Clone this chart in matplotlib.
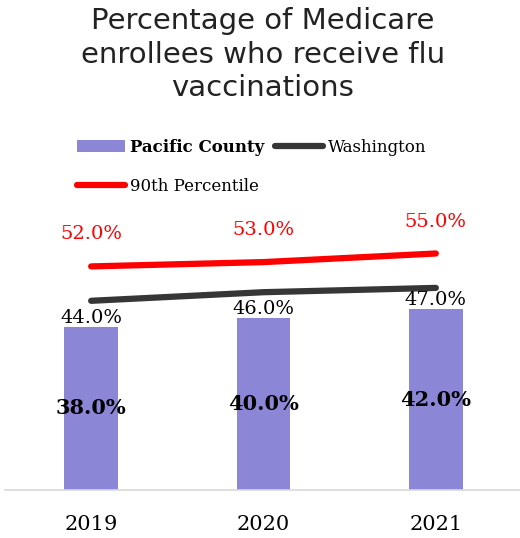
import matplotlib.pyplot as plt
import numpy as np

# Данные
years = ['2019', '2020', '2021']
pacific = [38.0, 40.0, 42.0]
washington = [44.0, 46.0, 47.0]
pct90 = [52.0, 53.0, 55.0]

bar_color = '#8B86D6'
wa_color = '#363636'
p90_color = '#FF0000'
serif = 'DejaVu Serif'

W, H = 520, 538
fig = plt.figure(figsize=(W / 100, H / 100), dpi=100)

# Оси в пиксельных координатах
left, right, bottom, top = 5, 522, 490, 232
ax = fig.add_axes([left / W, (H - bottom) / H, (right - left) / W, (bottom - top) / H])

x = np.arange(len(years))
bars = ax.bar(x, pacific, width=0.31, color=bar_color, label='Pacific County', zorder=2)
l_wa, = ax.plot(x, washington, color=wa_color, lw=4.5, solid_capstyle='round',
                label='Washington', zorder=3)
l_90, = ax.plot(x, pct90, color=p90_color, lw=4.5, solid_capstyle='round',
                label='90th Percentile', zorder=3)

ax.set_xlim(-0.5, 2.5)
ax.set_ylim(0, 60)
ax.set_yticks([])
ax.set_xticks(x)
ax.set_xticklabels(years, fontsize=15, family=serif)
ax.tick_params(axis='x', length=0, pad=18)
for s in ['top', 'right', 'left']:
    ax.spines[s].set_visible(False)
ax.spines['bottom'].set_color('#D9D9D9')
ax.spines['bottom'].set_linewidth(1.2)

# Подписи значений
for xi, v in zip(x, pacific):
    ax.text(xi, v / 2, f'{v:.1f}%', ha='center', va='center', fontsize=15,
            fontweight='bold', family=serif, color='black')
# подписи Washington стоят над столбцами
for xi, v, b in zip(x, washington, pacific):
    ax.annotate(f'{v:.1f}%', (xi, b), xytext=(0, 6.5), textcoords='offset points',
                ha='center', va='center', fontsize=14, family=serif, color='black')
for xi, v in zip(x, pct90):
    ax.annotate(f'{v:.1f}%', (xi, v), xytext=(0, 23), textcoords='offset points',
                ha='center', va='center', fontsize=14, family=serif, color=p90_color)

# Заголовок
fig.text(0.505, 1 - 55 / H, 'Percentage of Medicare\nenrollees who receive flu\nvaccinations',
         ha='center', va='center', fontsize=21, linespacing=1.25, color='#222222')

# Легенда
leg = fig.legend([bars, l_90, l_wa], ['Pacific County', '90th Percentile', 'Washington'],
                 ncol=2, loc='upper left', bbox_to_anchor=(62 / W, 1 - 124 / H),
                 frameon=False, prop={'family': serif, 'size': 12},
                 handlelength=2.9, handletextpad=0.3, columnspacing=0.6,
                 labelspacing=1.3)
leg.get_texts()[0].set_fontweight('bold')

fig.savefig('out.png', dpi=100)
